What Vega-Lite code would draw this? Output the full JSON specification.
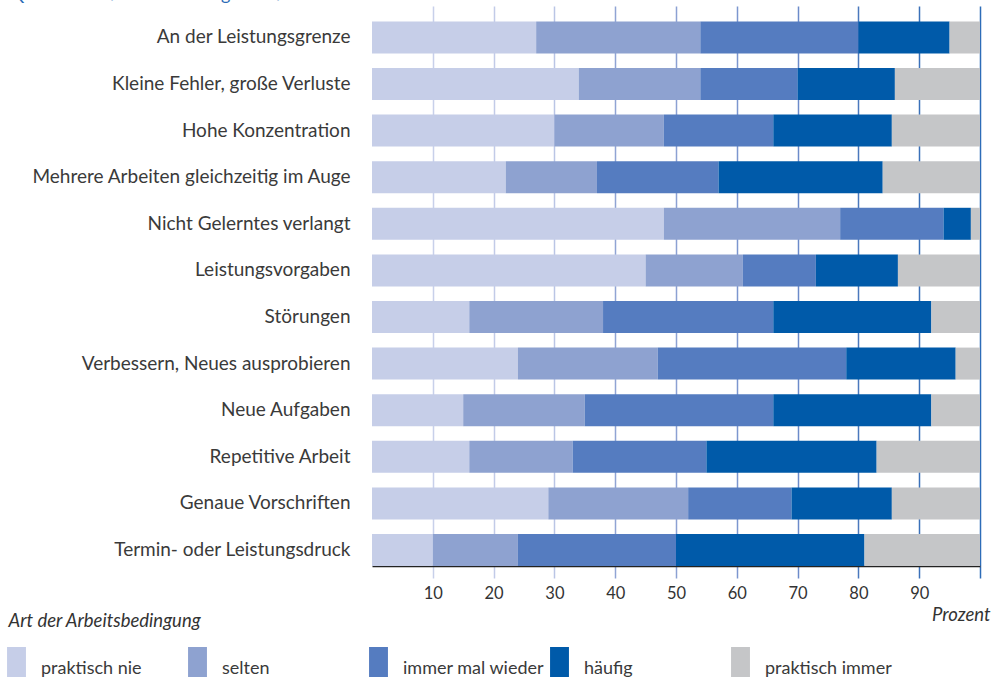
{
  "$schema": "https://vega.github.io/schema/vega-lite/v6.json",
  "width": 608,
  "height": 560,
  "autosize": "none",
  "padding": {"left": 372, "top": 6, "right": 12, "bottom": 117},
  "background": "white",
  "config": {
    "font": "Lato",
    "view": {"stroke": null}
  },
  "title": {
    "text": "Quelle: BIBB/IAB-Erhebung 1998/99",
    "anchor": "start",
    "frame": "group",
    "baseline": "alphabetic",
    "offset": 0,
    "dy": 12,
    "dx": -362,
    "fontSize": 18,
    "fontWeight": "normal",
    "color": "#2a6cb6",
    "font": "Lato"
  },
  "data": {
    "values": [
      {"cat": "An der Leistungsgrenze", "level": "praktisch nie", "ord": 1, "value": 27},
      {"cat": "An der Leistungsgrenze", "level": "selten", "ord": 2, "value": 27},
      {"cat": "An der Leistungsgrenze", "level": "immer mal wieder", "ord": 3, "value": 26},
      {"cat": "An der Leistungsgrenze", "level": "häufig", "ord": 4, "value": 15},
      {"cat": "An der Leistungsgrenze", "level": "praktisch immer", "ord": 5, "value": 5},
      {"cat": "Kleine Fehler, große Verluste", "level": "praktisch nie", "ord": 1, "value": 34},
      {"cat": "Kleine Fehler, große Verluste", "level": "selten", "ord": 2, "value": 20},
      {"cat": "Kleine Fehler, große Verluste", "level": "immer mal wieder", "ord": 3, "value": 16},
      {"cat": "Kleine Fehler, große Verluste", "level": "häufig", "ord": 4, "value": 16},
      {"cat": "Kleine Fehler, große Verluste", "level": "praktisch immer", "ord": 5, "value": 14},
      {"cat": "Hohe Konzentration", "level": "praktisch nie", "ord": 1, "value": 30},
      {"cat": "Hohe Konzentration", "level": "selten", "ord": 2, "value": 18},
      {"cat": "Hohe Konzentration", "level": "immer mal wieder", "ord": 3, "value": 18},
      {"cat": "Hohe Konzentration", "level": "häufig", "ord": 4, "value": 19.5},
      {"cat": "Hohe Konzentration", "level": "praktisch immer", "ord": 5, "value": 14.5},
      {"cat": "Mehrere Arbeiten gleichzeitig im Auge", "level": "praktisch nie", "ord": 1, "value": 22},
      {"cat": "Mehrere Arbeiten gleichzeitig im Auge", "level": "selten", "ord": 2, "value": 15},
      {"cat": "Mehrere Arbeiten gleichzeitig im Auge", "level": "immer mal wieder", "ord": 3, "value": 20},
      {"cat": "Mehrere Arbeiten gleichzeitig im Auge", "level": "häufig", "ord": 4, "value": 27},
      {"cat": "Mehrere Arbeiten gleichzeitig im Auge", "level": "praktisch immer", "ord": 5, "value": 16},
      {"cat": "Nicht Gelerntes verlangt", "level": "praktisch nie", "ord": 1, "value": 48},
      {"cat": "Nicht Gelerntes verlangt", "level": "selten", "ord": 2, "value": 29},
      {"cat": "Nicht Gelerntes verlangt", "level": "immer mal wieder", "ord": 3, "value": 17},
      {"cat": "Nicht Gelerntes verlangt", "level": "häufig", "ord": 4, "value": 4.5},
      {"cat": "Nicht Gelerntes verlangt", "level": "praktisch immer", "ord": 5, "value": 1.5},
      {"cat": "Leistungsvorgaben", "level": "praktisch nie", "ord": 1, "value": 45},
      {"cat": "Leistungsvorgaben", "level": "selten", "ord": 2, "value": 16},
      {"cat": "Leistungsvorgaben", "level": "immer mal wieder", "ord": 3, "value": 12},
      {"cat": "Leistungsvorgaben", "level": "häufig", "ord": 4, "value": 13.5},
      {"cat": "Leistungsvorgaben", "level": "praktisch immer", "ord": 5, "value": 13.5},
      {"cat": "Störungen", "level": "praktisch nie", "ord": 1, "value": 16},
      {"cat": "Störungen", "level": "selten", "ord": 2, "value": 22},
      {"cat": "Störungen", "level": "immer mal wieder", "ord": 3, "value": 28},
      {"cat": "Störungen", "level": "häufig", "ord": 4, "value": 26},
      {"cat": "Störungen", "level": "praktisch immer", "ord": 5, "value": 8},
      {"cat": "Verbessern, Neues ausprobieren", "level": "praktisch nie", "ord": 1, "value": 24},
      {"cat": "Verbessern, Neues ausprobieren", "level": "selten", "ord": 2, "value": 23},
      {"cat": "Verbessern, Neues ausprobieren", "level": "immer mal wieder", "ord": 3, "value": 31},
      {"cat": "Verbessern, Neues ausprobieren", "level": "häufig", "ord": 4, "value": 18},
      {"cat": "Verbessern, Neues ausprobieren", "level": "praktisch immer", "ord": 5, "value": 4},
      {"cat": "Neue Aufgaben", "level": "praktisch nie", "ord": 1, "value": 15},
      {"cat": "Neue Aufgaben", "level": "selten", "ord": 2, "value": 20},
      {"cat": "Neue Aufgaben", "level": "immer mal wieder", "ord": 3, "value": 31},
      {"cat": "Neue Aufgaben", "level": "häufig", "ord": 4, "value": 26},
      {"cat": "Neue Aufgaben", "level": "praktisch immer", "ord": 5, "value": 8},
      {"cat": "Repetitive Arbeit", "level": "praktisch nie", "ord": 1, "value": 16},
      {"cat": "Repetitive Arbeit", "level": "selten", "ord": 2, "value": 17},
      {"cat": "Repetitive Arbeit", "level": "immer mal wieder", "ord": 3, "value": 22},
      {"cat": "Repetitive Arbeit", "level": "häufig", "ord": 4, "value": 28},
      {"cat": "Repetitive Arbeit", "level": "praktisch immer", "ord": 5, "value": 17},
      {"cat": "Genaue Vorschriften", "level": "praktisch nie", "ord": 1, "value": 29},
      {"cat": "Genaue Vorschriften", "level": "selten", "ord": 2, "value": 23},
      {"cat": "Genaue Vorschriften", "level": "immer mal wieder", "ord": 3, "value": 17},
      {"cat": "Genaue Vorschriften", "level": "häufig", "ord": 4, "value": 16.5},
      {"cat": "Genaue Vorschriften", "level": "praktisch immer", "ord": 5, "value": 14.5},
      {"cat": "Termin- oder Leistungsdruck", "level": "praktisch nie", "ord": 1, "value": 10},
      {"cat": "Termin- oder Leistungsdruck", "level": "selten", "ord": 2, "value": 14},
      {"cat": "Termin- oder Leistungsdruck", "level": "immer mal wieder", "ord": 3, "value": 26},
      {"cat": "Termin- oder Leistungsdruck", "level": "häufig", "ord": 4, "value": 31},
      {"cat": "Termin- oder Leistungsdruck", "level": "praktisch immer", "ord": 5, "value": 19}
    ]
  },
  "mark": {"type": "bar", "strokeWidth": 0},
  "encoding": {
    "y": {
      "field": "cat",
      "type": "nominal",
      "sort": ["An der Leistungsgrenze", "Kleine Fehler, große Verluste", "Hohe Konzentration", "Mehrere Arbeiten gleichzeitig im Auge", "Nicht Gelerntes verlangt", "Leistungsvorgaben", "Störungen", "Verbessern, Neues ausprobieren", "Neue Aufgaben", "Repetitive Arbeit", "Genaue Vorschriften", "Termin- oder Leistungsdruck"],
      "scale": {"paddingInner": 0.313, "paddingOuter": 0.165, "align": 1},
      "axis": {
        "title": "Art der Arbeitsbedingung",
        "titleAngle": 0,
        "titleX": -364,
        "titleY": 614,
        "titleAlign": "left",
        "titleBaseline": "middle",
        "titleFont": "Lato",
        "titleFontStyle": "italic",
        "titleFontWeight": "normal",
        "titleFontSize": 18.5,
        "titleColor": "#333333",
        "domain": false,
        "ticks": false,
        "labelPadding": 22,
        "labelFontSize": 19,
        "labelColor": "#3a3a3a",
        "labelLimit": 400
      }
    },
    "x": {
      "field": "value",
      "type": "quantitative",
      "stack": "zero",
      "scale": {"domain": [0, 100], "nice": false, "zero": true},
      "axis": {
        "values": [10, 20, 30, 40, 50, 60, 70, 80, 90, 100],
        "labelExpr": "datum.value == 100 ? '' : datum.label",
        "grid": true,
        "gridWidth": 1.5,
        "gridColor": {
          "condition": [
            {"test": "datum.value == 10", "value": "#c8d0ea"},
            {"test": "datum.value == 20", "value": "#c2cbe8"},
            {"test": "datum.value == 30", "value": "#bac5e5"},
            {"test": "datum.value == 40", "value": "#90a4d4"},
            {"test": "datum.value == 50", "value": "#8ca1d3"},
            {"test": "datum.value == 60", "value": "#7c96cf"},
            {"test": "datum.value == 70", "value": "#6c8bca"},
            {"test": "datum.value == 80", "value": "#4a78bd"},
            {"test": "datum.value == 90", "value": "#3a70b9"}
          ],
          "value": "#2d6cb8"
        },
        "tickColor": {
          "condition": [
            {"test": "datum.value == 10", "value": "#c8d0ea"},
            {"test": "datum.value == 20", "value": "#c2cbe8"},
            {"test": "datum.value == 30", "value": "#bac5e5"},
            {"test": "datum.value == 40", "value": "#90a4d4"},
            {"test": "datum.value == 50", "value": "#8ca1d3"},
            {"test": "datum.value == 60", "value": "#7c96cf"},
            {"test": "datum.value == 70", "value": "#6c8bca"},
            {"test": "datum.value == 80", "value": "#4a78bd"},
            {"test": "datum.value == 90", "value": "#3a70b9"}
          ],
          "value": "#2d6cb8"
        },
        "tickWidth": 1.5,
        "tickSize": 12,
        "domain": true,
        "domainColor": "#222222",
        "domainWidth": 1.5,
        "labelFontSize": 16.5,
        "labelColor": "#333333",
        "labelPadding": 7,
        "title": "Prozent",
        "titleX": 618,
        "titleY": 48,
        "titleAlign": "right",
        "titleAnchor": null,
        "titleBaseline": "middle",
        "titleFont": "Lato",
        "titleFontStyle": "italic",
        "titleFontWeight": "normal",
        "titleFontSize": 18.5,
        "titleColor": "#333333"
      }
    },
    "color": {
      "field": "level",
      "type": "nominal",
      "scale": {
        "domain": ["praktisch nie", "selten", "immer mal wieder", "häufig", "praktisch immer"],
        "range": ["#c6cee8", "#8ea2d0", "#557cc0", "#005aa9", "#c5c6c8"]
      },
      "legend": {
        "title": null,
        "orient": "none",
        "direction": "horizontal",
        "legendX": -370.5,
        "legendY": 641,
        "gridAlign": "all",
        "columnPadding": 0,
        "symbolType": "M-0.63,-1H0.63V1H-0.63Z",
        "symbolSize": 900,
        "symbolStrokeWidth": 0,
        "symbolOpacity": 1,
        "labelOffset": 9.5,
        "labelFontSize": 18,
        "labelColor": "#3a3a3a",
        "labelBaseline": "middle",
        "padding": 0,
        "encode": {"labels": {"update": {"dy": {"value": 7}}}}
      }
    },
    "order": {"field": "ord", "type": "quantitative"}
  }
}
